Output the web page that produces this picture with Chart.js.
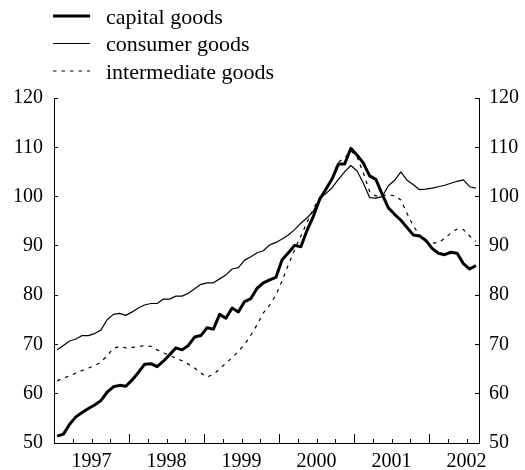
<!DOCTYPE html>
<html>
<head>
<meta charset="utf-8">
<script src="https://cdn.jsdelivr.net/npm/chart.js@4.4.1/dist/chart.umd.min.js"></script>
<style>
  body { margin: 0; background: #fff; }
  canvas { display: block; }
</style>
</head>
<body>
<canvas id="goodsChart" width="525" height="470"></canvas>
<script>
// monthly index values, Jan 1997 onwards
const yearLabels = ['1997', '1998', '1999', '2000', '2001', '2002'];

const capitalGoods = [
  51.4, 51.8, 53.8, 55.3, 56.2, 57.0, 57.7, 58.6, 60.3, 61.4, 61.7, 61.5,
  62.8, 64.3, 66.0, 66.1, 65.5, 66.6, 67.9, 69.3, 68.9, 69.8, 71.5, 71.8,
  73.4, 73.1, 76.1, 75.3, 77.4, 76.6, 78.7, 79.3, 81.4, 82.5, 83.1, 83.6,
  87.2, 88.6, 90.1, 89.8, 93.2, 96.0, 99.4, 101.5, 103.6, 106.6, 106.6, 109.8,
  108.4, 106.8, 104.2, 103.5, 100.5, 97.7, 96.4, 95.2, 93.7, 92.2, 92.0, 91.1,
  89.5, 88.5, 88.2, 88.7, 88.5, 86.4, 85.3, 86.0
];

const consumerGoods = [
  68.9, 69.8, 70.7, 71.1, 71.8, 71.8, 72.2, 72.9, 75.0, 76.1, 76.3, 75.9,
  76.6, 77.4, 78.0, 78.3, 78.3, 79.2, 79.2, 79.8, 79.8, 80.4, 81.3, 82.2,
  82.5, 82.5, 83.3, 84.1, 85.3, 85.6, 87.1, 87.8, 88.6, 89.0, 90.2, 90.7,
  91.4, 92.2, 93.3, 94.6, 95.7, 97.0, 99.6, 100.6, 101.8, 103.5, 105.0, 106.3,
  105.2, 102.7, 99.8, 99.7, 100.0, 102.2, 103.3, 105.0, 103.3, 102.4, 101.4, 101.5,
  101.7, 102.0, 102.3, 102.7, 103.1, 103.4, 102.0, 101.7
];

const intermediateGoods = [
  62.6, 63.2, 63.6, 64.2, 64.7, 65.2, 65.7, 66.4, 67.7, 69.2, 69.6, 69.3,
  69.4, 69.5, 69.8, 69.6, 68.9, 68.3, 67.8, 67.2, 66.7, 66.0, 65.2, 64.2,
  63.4, 63.9, 65.0, 66.2, 67.3, 68.6, 70.0, 71.9, 74.0, 76.4, 78.0, 80.0,
  82.9, 86.2, 89.2, 92.0, 94.8, 97.5, 99.8, 101.6, 103.8, 107.0, 107.8, 109.3,
  108.0, 104.8, 101.0, 100.1, 100.3, 100.3, 100.2, 99.3, 96.5, 94.0, 92.2, 90.8,
  90.6, 90.6, 91.5, 92.6, 93.4, 93.3, 92.0, 90.9
];

const serif = '"Liberation Serif", "Times New Roman", serif';

// each month sits in the middle of its slot on the x axis
function toPoints(values) {
  return values.map((v, i) => ({ x: i + 0.5, y: v }));
}

// inward tick marks on the time axis: quarters short, years long
const timeTicks = {
  id: 'timeTicks',
  afterDraw(chart) {
    const ctx = chart.ctx;
    const x = chart.scales.x;
    const bottom = chart.chartArea.bottom;
    ctx.save();
    ctx.strokeStyle = '#000';
    ctx.lineWidth = 1;
    for (let m = 3; m < x.max; m += 3) {
      const px = Math.round(x.getPixelForValue(m)) + 0.5;
      const len = m % 12 === 0 ? 9 : 4;
      ctx.beginPath();
      ctx.moveTo(px, bottom);
      ctx.lineTo(px, bottom - len);
      ctx.stroke();
    }
    ctx.restore();
  }
};

// stacked legend in the top left corner
const stackedLegend = {
  id: 'stackedLegend',
  afterDraw(chart) {
    const ctx = chart.ctx;
    ctx.save();
    ctx.font = '22px ' + serif;
    ctx.textBaseline = 'middle';
    ctx.fillStyle = '#000';
    ctx.strokeStyle = '#000';
    chart.data.datasets.forEach((ds, i) => {
      const y = 16 + i * 27.5;
      ctx.beginPath();
      ctx.lineWidth = ds.borderWidth;
      ctx.setLineDash(ds.borderDash || []);
      ctx.moveTo(53, y);
      ctx.lineTo(90, y);
      ctx.stroke();
      ctx.setLineDash([]);
      ctx.fillText(ds.label, 106, y + 2);
    });
    ctx.restore();
  }
};

function valueAxis(side, pad, width) {
  return {
    type: 'linear',
    position: side,
    min: 50,
    max: 120,
    ticks: {
      stepSize: 10,
      padding: pad,
      color: '#000',
      font: { family: serif, size: 20 }
    },
    grid: {
      drawOnChartArea: false,
      tickLength: -4,
      tickColor: '#000'
    },
    border: { color: '#000', width: 1 },
    afterFit(scale) { scale.width = width; }
  };
}

const ctx = document.getElementById('goodsChart');

new Chart(ctx, {
  type: 'line',
  data: {
    datasets: [
      {
        label: 'capital goods',
        data: toPoints(capitalGoods),
        borderColor: '#000',
        borderWidth: 3
      },
      {
        label: 'consumer goods',
        data: toPoints(consumerGoods),
        borderColor: '#000',
        borderWidth: 1.2
      },
      {
        label: 'intermediate goods',
        data: toPoints(intermediateGoods),
        borderColor: '#000',
        borderWidth: 1.2,
        borderDash: [3.5, 5]
      }
    ]
  },
  options: {
    responsive: false,
    animation: false,
    layout: { padding: { top: 98, left: 0, right: 0, bottom: 0 } },
    elements: {
      point: { radius: 0 },
      line: { tension: 0, borderJoinStyle: 'round' }
    },
    plugins: {
      legend: { display: false },
      tooltip: { enabled: false }
    },
    scales: {
      x: {
        type: 'linear',
        position: 'bottom',
        min: 0,
        max: 68,
        grid: { display: false, drawTicks: false },
        border: { color: '#000', width: 1 },
        ticks: {
          autoSkip: false,
          maxRotation: 0,
          padding: 7,
          color: '#000',
          font: { family: serif, size: 20 },
          callback: (v) => yearLabels[(v - 6) / 12]
        },
        afterBuildTicks(scale) {
          scale.ticks = yearLabels.map((_, i) => ({ value: 6 + 12 * i }));
        },
        afterFit(scale) { scale.height = 26; }
      },
      y: valueAxis('left', 15, 54),
      y2: valueAxis('right', 14, 46)
    }
  },
  plugins: [timeTicks, stackedLegend]
});
</script>
</body>
</html>
